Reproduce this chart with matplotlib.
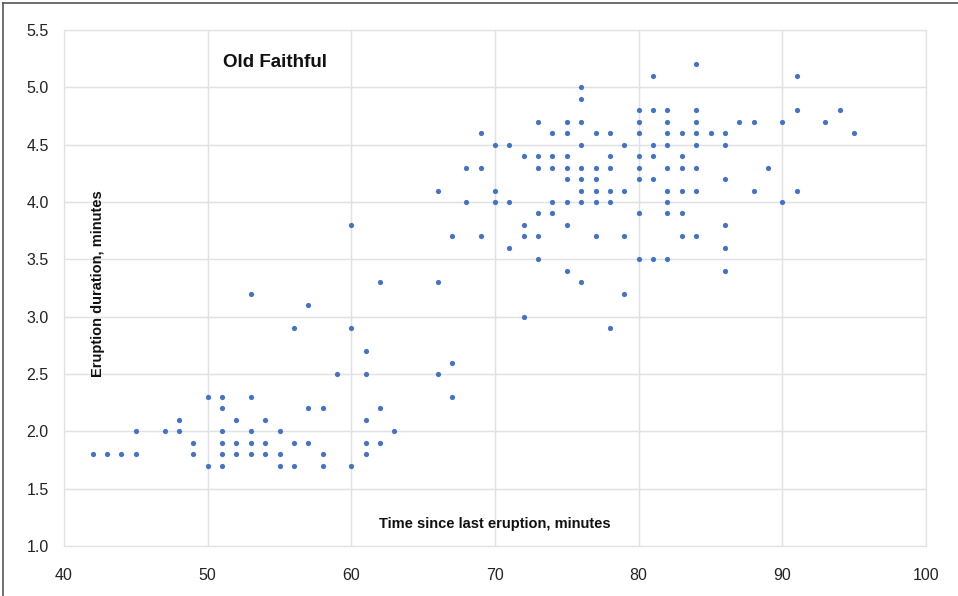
import matplotlib as mpl
mpl.use('Agg')
import matplotlib.pyplot as plt
from matplotlib.lines import Line2D

plt.rcParams['font.family'] = ['Liberation Sans', 'DejaVu Sans']

# waiting time (min) -> eruption durations (min) observed at that waiting time
waiting = [42, 43, 44, 45, 47, 48, 49, 50, 51, 52, 53, 54, 55, 56, 57, 58, 59, 60,
           61, 62, 63, 66, 67, 68, 69, 70, 71, 72, 73, 74, 75, 76, 77, 78, 79, 80,
           81, 82, 83, 84, 85, 86, 87, 88, 89, 90, 91, 93, 94, 95]
durations = [
    [1.8], [1.8], [1.8], [2.0, 1.8], [2.0], [2.1, 2.0], [1.9, 1.8], [2.3, 1.7],
    [2.3, 2.2, 2.0, 1.9, 1.8, 1.7], [2.1, 1.9, 1.8], [3.2, 2.3, 2.0, 1.9, 1.8],
    [2.1, 1.9, 1.8], [2.0, 1.8, 1.7], [2.9, 1.9, 1.7], [3.1, 2.2, 1.9],
    [2.2, 1.8, 1.7], [2.5], [3.8, 2.9, 1.7], [2.7, 2.5, 2.1, 1.9, 1.8],
    [3.3, 2.2, 1.9], [2.0], [4.1, 3.3, 2.5], [3.7, 2.6, 2.3], [4.3, 4.0],
    [4.6, 4.3, 3.7], [4.5, 4.1, 4.0], [4.5, 4.0, 3.6], [4.4, 3.8, 3.7, 3.0],
    [4.7, 4.4, 4.3, 3.9, 3.7, 3.5], [4.6, 4.4, 4.3, 4.0, 3.9],
    [4.7, 4.6, 4.4, 4.3, 4.2, 4.0, 3.8, 3.4],
    [5.0, 4.9, 4.7, 4.5, 4.3, 4.2, 4.1, 4.0, 3.3],
    [4.6, 4.3, 4.2, 4.1, 4.0, 3.7], [4.6, 4.4, 4.3, 4.1, 4.0, 2.9],
    [4.5, 4.1, 3.7, 3.2], [4.8, 4.7, 4.6, 4.4, 4.3, 4.2, 3.9, 3.5],
    [5.1, 4.8, 4.5, 4.4, 4.2, 3.5], [4.8, 4.7, 4.6, 4.5, 4.3, 4.1, 4.0, 3.9, 3.5],
    [4.6, 4.4, 4.3, 4.1, 3.9, 3.7], [5.2, 4.8, 4.7, 4.6, 4.5, 4.3, 4.1, 3.7],
    [4.6], [4.6, 4.5, 4.2, 3.8, 3.6, 3.4], [4.7], [4.7, 4.1], [4.3],
    [4.7, 4.0], [5.1, 4.8, 4.1], [4.7], [4.8], [4.6],
]

x_ticks = [40, 50, 60, 70, 80, 90, 100]
y_ticks = [1.0, 1.5, 2.0, 2.5, 3.0, 3.5, 4.0, 4.5, 5.0, 5.5]

xs = []
ys = []
for w, ds in zip(waiting, durations):
    for d in ds:
        xs.append(w)
        ys.append(d)

fig = plt.figure(figsize=(9.58, 5.96), dpi=100)
ax = fig.add_axes([64 / 958, 1 - 546 / 596, 862 / 958, 516 / 596])

ax.scatter(xs, ys, s=14, color='#4472C4', linewidths=0, zorder=3)

ax.set_xlim(40, 100)
ax.set_ylim(1.0, 5.5)
ax.set_xticks(x_ticks)
ax.set_yticks(y_ticks)
ax.set_xticklabels([str(t) for t in x_ticks])
ax.set_yticklabels(['%.1f' % t for t in y_ticks])
ax.tick_params(length=0, labelsize=11.5, colors='#222222')
ax.tick_params(axis='y', pad=11)
ax.tick_params(axis='x', pad=16)

# light grid acts as the plot frame
ax.grid(True, color='#e2e2e2', linewidth=0.9, zorder=0)
for s in ax.spines.values():
    s.set_visible(False)
for v in x_ticks:
    ax.axvline(v, color='#e2e2e2', linewidth=0.9, zorder=0, clip_on=False)
for v in y_ticks:
    ax.axhline(v, color='#e2e2e2', linewidth=0.9, zorder=0, clip_on=False)

ax.text(54.7, 5.22, 'Old Faithful', fontsize=13.5, fontweight='bold',
        ha='center', va='center', color='#111111')
ax.text(42.4, 3.29, 'Eruption duration, minutes', fontsize=10.5, fontweight='bold',
        rotation=90, ha='center', va='center', color='#111111')
ax.text(70.0, 1.19, 'Time since last eruption, minutes', fontsize=10.5, fontweight='bold',
        ha='center', va='center', color='#111111')

# outer frame on the top and left edges
fig.add_artist(Line2D([2.5 / 958, 2.5 / 958], [0, 1 - 3 / 596], color='#555555', linewidth=1.2))
fig.add_artist(Line2D([2.5 / 958, 1], [1 - 3 / 596, 1 - 3 / 596], color='#555555', linewidth=1.2))

plt.savefig('out.png', dpi=100)
